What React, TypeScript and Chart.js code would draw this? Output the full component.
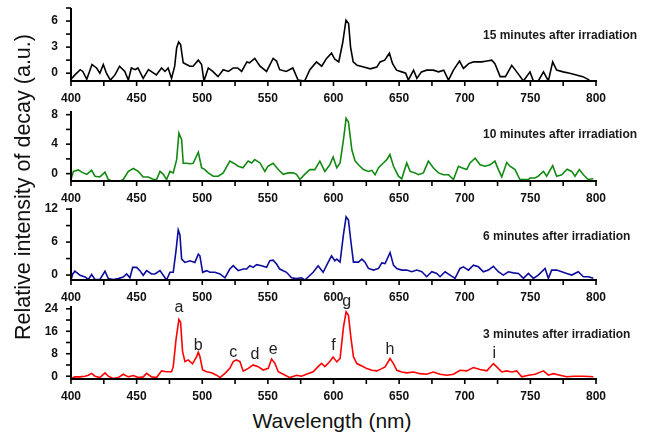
import React, { useEffect, useRef } from "react";
import { Chart, registerables } from "chart.js";
Chart.register(...registerables);

// ---------- data ----------
const wl15 = [400,403,407,409,412,416,419.5,422,424.6,427,430,433.5,437,441,443.7,446,449,451,455,459,463,465,469,471.6,474,476.6,479,480.5,482,483.5,485.5,488,490.6,493,497,499.5,501.3,504.6,508,512,516,520,523.6,527,530,534,536,540,544,549,554,556.6,559,564,569,573,578,582,587,591,594.7,598.5,601,604,607,609.5,611.5,613,615,618,623,628,633,635.5,639,642.6,645,648,652,655,657,661,663.5,667,671,676,680,684,687.6,691.4,696,699,703,706.6,710,713,717,720.6,723,727,731,735.8,739.6,744.7,749.7,752.3,756,760,763.7,767,770,775,780,785,790,795];
const int15 = [-0.7,-0.2,0.4,0.2,-0.7,1.0,0.6,0,1.0,0,-0.8,-0.2,0.8,0.2,-0.8,0.6,0.4,0.6,-0.6,0.4,0,-0.2,0.6,0.2,0.6,-0.6,0.8,2.9,3.6,3.3,1.2,1.0,0.8,0.8,1.5,1.0,-0.9,0.6,0.2,-0.4,0.4,0.2,0.6,0.6,0.2,1.3,1.2,1.7,0.8,0.2,1.7,1.4,0.4,0.2,0.6,-0.8,-0.9,0.4,1.3,0.8,1.7,2.3,1.6,1.3,3.5,6.1,5.7,3.0,1.3,0.9,0.7,0.5,0.7,1.3,1.5,2.3,1.1,0.35,0.15,0,-0.8,0.35,-0.6,0.15,0.35,0.35,0.15,0.35,-0.8,0.35,1.4,0.55,1.1,1.3,1.3,1.3,1.4,1.5,1.1,-0.4,-0.4,0.9,0.15,-0.9,0.15,-0.9,-0.9,0.15,-0.9,1.3,0.35,0.15,0,-0.2,-0.4,-0.8];

const wl10 = [400,401.8,405.6,408.1,412,415.7,418.3,422,425.9,428.4,431,437.3,439.8,443.7,447.5,451.3,455,458.9,462.7,465.2,467.8,470.3,472.8,475.4,477.9,480.5,482.2,484.3,485.5,488,490.6,493.1,497,499.5,502,504.6,508.4,512.2,516,521,523.6,527.4,531,533.8,535,537.6,540,544,547.7,550,554,557.9,561.7,565.5,569.3,571.8,574.4,578,582,585.8,589.6,593.4,597.2,599.7,602.5,605,607.6,609.6,611.4,614,616.5,619,622.8,626.6,629.2,631.7,634.3,638,640.6,643,645.7,649.5,652,655.8,658.4,662.2,664.7,668.5,672.3,676,680,683.8,687.6,691.4,695.2,697.7,701.5,704,707.9,711.7,715.5,719.3,723,725.6,728.2,732,734.5,738.3,742,748.5,749.7,753.6,756,760,762.4,767,770,773.9,778,781.5,784,787.3,790.4,794,798];
const int10 = [-0.8,0.3,0.5,0.2,-0.1,0.45,-0.35,-0.45,0.2,-0.8,-1,-1,-0.8,0.3,0.7,0.3,-0.45,-0.45,-0.8,-0.8,0.3,-0.1,-0.8,0.3,0.1,1.9,5.5,4.6,1.4,1.4,1.35,1.4,2.9,0.8,0.55,0.1,-0.35,-0.35,0.1,1.7,1.45,1.0,0.8,1.45,1.7,1.45,1.9,1.45,0.3,1.0,1.4,0.55,-0.1,0.1,0.1,-0.1,-0.8,-0.1,0.55,0.55,1.7,0.3,1.2,2.25,0.8,1.45,4.6,7.5,7.0,3.2,1.7,1.2,0.55,0.3,0.45,-0.15,0.8,1.45,1.9,2.6,1.0,-0.35,-0.7,1.45,0.3,0.1,-0.15,0.1,1.7,0.8,0.1,-0.15,-0.15,-0.8,1.0,0.8,0.55,1.45,2.1,1.2,1.0,1.2,1.7,0.55,-0.45,1.5,1.0,0.55,-0.8,-0.8,-0.6,-0.6,-0.35,0.3,-0.35,1.1,-0.35,-0.15,0.6,0.3,-0.35,0.55,-0.15,-0.8,-0.7];

const wl6 = [400,401.3,403,406.9,410.7,413.2,415.7,418.3,422,425.9,428.4,432.2,436,439.8,442.4,444.9,447,450,452.5,455,457.6,461.4,464,467.8,470.3,472.8,475.4,477.9,480,481.7,483,484.3,486.8,490.6,494.4,497,498.2,500.3,503.3,505.8,509.6,513.5,517.3,521,523.6,527.4,531.2,533.8,536.3,538.8,541.4,545.2,549,551.5,554,556.6,559,564.2,568,571.8,575.6,578.2,580.7,584.5,588.3,592.1,595.9,598.5,601,602.5,605,607.6,609.6,611.4,613.2,615.2,619,621.6,624,626.6,630.5,634.3,636.8,639.3,643.1,645.7,648.2,652,655.8,659.6,663.5,667.3,671,674.9,678.7,681.2,685,688.8,692.6,696.4,699,702.8,706.6,710.4,714.2,718,721.8,725.6,729.4,733.2,737,740.9,744.7,748.5,752.3,756,761.2,763.7,766.2,770,773.9,777.7,781.5,786.5,790.4,794.2,798];
const int6 = [-0.9,0.2,0.7,-0.05,-0.35,-0.8,0.1,-0.8,-0.8,0.7,-0.65,-0.8,-0.65,-0.35,0.2,-0.5,1.4,1.4,0.8,-0.05,0.8,0.2,0.2,0.8,-0.05,-0.9,0.5,0.5,4.4,8.2,7.3,2.9,2.3,2.6,2.3,3.8,3.5,0.5,0.8,0.5,0.5,0.2,-0.5,1.1,1.7,0.8,1.1,1.1,1.7,1.4,1.9,1.7,1.4,2.6,2.7,2.0,1.1,0.5,-0.5,-0.65,-0.5,-0.9,-0.35,0.5,1.7,0.5,2.3,3.5,2.6,2.9,2.35,7.4,10.6,10,6.2,2.35,2.35,2.9,2.35,1.2,0.9,1.2,2.2,2.1,4.1,1.8,1.2,0.9,0.9,0.6,0.9,0.6,-0.3,0.6,0.3,-0.3,0.6,0,-0.6,1.2,1.5,0.9,1.8,1.5,0.6,0.9,1.6,0.6,0,0.6,0.4,0.3,-0.6,0.3,-0.6,0,1.2,-0.6,0.9,0.9,0.6,0.3,0,0.6,-0.3,-0.3,-0.6];

const wl3 = [400,403,406.9,410.7,413.2,415.7,418.3,422,425.9,428.4,432.2,436,439.8,443.7,447.5,451.3,455,457.6,461.4,465.2,469,472.8,476.6,477.9,480,482.2,483.5,485,486.8,489.3,492.6,495.7,497,498.2,500.3,503.3,507.1,510.9,513.5,517.3,521,523.6,526,528.7,531.2,535,538.8,542.6,546.4,550.3,552.8,555.3,557.9,561.7,566.8,571.8,575.6,579.4,584.5,588.3,590.9,593.4,597.2,599.7,602.5,605,607.6,609.6,611.4,613.2,615.2,617.8,621.6,625.4,629.2,633,636.8,639.3,643.1,645.7,648.2,652,655.8,660.9,665.9,671,676,681.2,686.3,691.4,696.4,701.5,706.6,711.7,716.8,721.8,724.4,728.2,732,735.8,739.6,743.4,748.5,753.6,760,763.7,767.5,772.6,777.7,782.8,790.4,798];
const int3 = [-0.85,-0.25,-0.25,0,0.35,1.0,0,-0.5,1.2,0,-0.85,-0.5,0.7,-0.25,0.25,-0.5,-0.25,1.0,-0.25,-0.5,1.9,1.6,1.6,3.4,13,20.2,19.2,8.8,5.2,5.8,4.4,7.0,8.5,7.0,2.2,1.6,1.2,0.35,-0.5,1.0,2.8,5.2,5.8,5.2,1.8,2.8,4.0,3.4,2.2,2.8,6.1,4.6,1.6,0.7,-0.5,0.35,0,0.7,1.6,3.4,4.6,3.4,5.2,6.8,5.1,6.3,17.5,22.9,21.7,14,6.9,4.5,3.6,2.7,2.1,1.9,2.7,3.3,6.3,4.5,2.1,1.5,1.2,1.5,0.9,0.7,1.5,0.7,0.35,0.7,2.1,1.9,3.1,2.4,1.9,4.5,3.3,1.5,1.9,1.5,1.9,-0.2,0.35,0.7,1.9,0.35,0.9,0.35,-0.2,0,0,-0.2];

const peakLetters = ["a","b","c","d","e","f","g","h","i"];
const peakWl = [482.3,497,523.7,540.2,554,600,610,643,722.5];
const peakLevel = [24.4,11,8.3,7.7,9.3,11,26.4,9.3,8.1];

const xTickValues = [400,425,450,475,500,525,550,575,600,625,650,675,700,725,750,775,800];
const xTickLabels = [400,450,500,550,600,650,700,750,800];

const yTicks15 = [0,1.5,3,4.5,6,7.5];
const yLabels15 = [0,3,6];
const yTicks10 = [0,2,4,6,8];
const yLabels10 = [0,4,8];
const yTicks6 = [0,3,6,9,12];
const yLabels6 = [0,6,12];
const yTicks3 = [0,4,8,12,16,20,24];
const yLabels3 = [0,8,16,24];

const panelTitles = [
  "15 minutes after irradiation",
  "10 minutes after irradiation",
  "6 minutes after irradiation",
  "3 minutes after irradiation",
];
const xTitle = "Wavelength (nm)";
const yTitle = "Relative intensity of decay (a.u.)";

// ---------- layout ----------
const FONT = "'Liberation Sans', Arial, Helvetica, sans-serif";
const W = 669;
const PLOT_LEFT = 71;
const PLOT_RIGHT = 596;
const PAD_TOP = 12;
const XAXIS_H = 28;
const TICK_LEN = 5;

const panels = [
  { top: 8, bottom: 81, min: -0.9, max: 7.5, wl: wl15, val: int15, color: "#000000", ticks: yTicks15, labels: yLabels15, title: panelTitles[0], letters: false },
  { top: 111, bottom: 181, min: -1, max: 8.5, wl: wl10, val: int10, color: "#128a12", ticks: yTicks10, labels: yLabels10, title: panelTitles[1], letters: false },
  { top: 208, bottom: 280, min: -0.9, max: 12.2, wl: wl6, val: int6, color: "#0c0c9e", ticks: yTicks6, labels: yLabels6, title: panelTitles[2], letters: false },
  { top: 306, bottom: 379, min: -1, max: 25, wl: wl3, val: int3, color: "#ff0000", ticks: yTicks3, labels: yLabels3, title: panelTitles[3], letters: true },
];

const letterPlugin = {
  id: "peakLetters",
  afterDatasetsDraw(chart: any) {
    const { ctx } = chart;
    const sx = chart.scales.x;
    const sy = chart.scales.y;
    ctx.save();
    ctx.font = `16px ${FONT}`;
    ctx.fillStyle = "#222";
    ctx.textAlign = "center";
    ctx.textBaseline = "middle";
    peakLetters.forEach((t, i) => {
      ctx.fillText(t, sx.getPixelForValue(peakWl[i]), sy.getPixelForValue(peakLevel[i]));
    });
    ctx.restore();
  },
};

function axisPlugin(yTickVals: number[]) {
  return {
    id: "axesFrame",
    afterDraw(chart: any) {
      const { ctx, chartArea } = chart;
      const { left, right, top, bottom } = chartArea;
      const sx = chart.scales.x;
      const sy = chart.scales.y;
      ctx.save();
      ctx.strokeStyle = "#000";
      ctx.lineWidth = 1.6;
      xTickValues.forEach((v) => {
        const px = sx.getPixelForValue(v);
        ctx.beginPath();
        ctx.moveTo(px, bottom);
        ctx.lineTo(px, bottom + TICK_LEN);
        ctx.stroke();
      });
      yTickVals.forEach((v) => {
        const py = sy.getPixelForValue(v);
        ctx.beginPath();
        ctx.moveTo(left, py);
        ctx.lineTo(left - TICK_LEN, py);
        ctx.stroke();
      });
      ctx.lineWidth = 2;
      ctx.beginPath();
      ctx.moveTo(left, top);
      ctx.lineTo(left, bottom);
      ctx.stroke();
      ctx.beginPath();
      ctx.moveTo(left - 1, bottom);
      ctx.lineTo(right + 1, bottom);
      ctx.stroke();
      ctx.restore();
    },
  };
}

function makeChart(canvas: HTMLCanvasElement, p: any) {
  const tickFont = { family: FONT, size: 12, weight: "bold" as const };
  const plugins: any[] = [axisPlugin(p.ticks)];
  if (p.letters) plugins.push(letterPlugin);
  return new Chart(canvas, {
    type: "line",
    data: {
      datasets: [
        {
          data: p.wl.map((x: number, i: number) => ({ x, y: p.val[i] })),
          borderColor: p.color,
          borderWidth: 1.6,
          pointRadius: 0,
          tension: 0,
          fill: false,
        },
      ],
    },
    options: {
      responsive: false,
      animation: false,
      events: [],
      layout: { padding: { top: PAD_TOP, right: W - PLOT_RIGHT, left: 0, bottom: 0 } },
      plugins: { legend: { display: false }, tooltip: { enabled: false }, title: { display: false } },
      scales: {
        x: {
          type: "linear",
          min: 400,
          max: 800,
          afterBuildTicks: (s: any) => {
            s.ticks = xTickValues.map((v) => ({ value: v }));
          },
          afterFit: (s: any) => {
            s.height = XAXIS_H;
            s.paddingLeft = 0;
            s.paddingRight = 0;
          },
          ticks: {
            autoSkip: false,
            maxRotation: 0,
            minRotation: 0,
            padding: 5,
            color: "#111",
            font: tickFont,
            callback: (v: any) => (xTickLabels.includes(Number(v)) ? String(v) : ""),
          },
          grid: { display: false, drawOnChartArea: false, drawTicks: true, tickLength: TICK_LEN },
          border: { display: false },
        },
        y: {
          type: "linear",
          min: p.min,
          max: p.max,
          afterBuildTicks: (s: any) => {
            s.ticks = p.ticks.map((v: number) => ({ value: v }));
          },
          afterFit: (s: any) => {
            s.width = PLOT_LEFT;
            s.paddingTop = 0;
            s.paddingBottom = 0;
          },
          ticks: {
            autoSkip: false,
            padding: 8,
            color: "#111",
            font: tickFont,
            callback: (v: any) => (p.labels.includes(Number(v)) ? String(v) : ""),
          },
          grid: { display: false, drawOnChartArea: false, drawTicks: true, tickLength: TICK_LEN },
          border: { display: false },
        },
      },
    },
    plugins,
  } as any);
}

export default function App() {
  const refs = [useRef<HTMLCanvasElement>(null), useRef<HTMLCanvasElement>(null), useRef<HTMLCanvasElement>(null), useRef<HTMLCanvasElement>(null)];

  useEffect(() => {
    const charts = panels.map((p, i) => makeChart(refs[i].current as HTMLCanvasElement, p));
    return () => charts.forEach((c) => c.destroy());
  }, []);

  return (
    <div style={{ position: "absolute", left: 0, top: 0, width: W, height: 438, background: "#fff", overflow: "hidden", fontFamily: FONT }}>
      {panels.map((p, i) => {
        const top = p.top - PAD_TOP;
        const h = p.bottom + XAXIS_H - top;
        return (
          <canvas
            key={"c" + i}
            ref={refs[i]}
            width={W}
            height={h}
            style={{ position: "absolute", left: 0, top, width: W, height: h }}
          />
        );
      })}
      {panels.map((p, i) => {
        const cy = [35, 134, 236, 334][i];
        return (
          <div
            key={"t" + i}
            style={{ position: "absolute", left: 483, top: cy - 8, height: 16, lineHeight: "16px", fontSize: 12, fontWeight: "bold", color: "#1a1a1a", whiteSpace: "nowrap" }}
          >
            {p.title}
          </div>
        );
      })}
      <div style={{ position: "absolute", left: 232, top: 408, width: 200, height: 26, lineHeight: "26px", textAlign: "center", fontSize: 21, color: "#111", whiteSpace: "nowrap" }}>
        {xTitle}
      </div>
      <div
        style={{ position: "absolute", left: 23 - 200, top: 187 - 13, width: 400, height: 26, lineHeight: "26px", textAlign: "center", fontSize: 21.5, color: "#111", whiteSpace: "nowrap", transform: "rotate(-90deg)" }}
      >
        {yTitle}
      </div>
    </div>
  );
}
